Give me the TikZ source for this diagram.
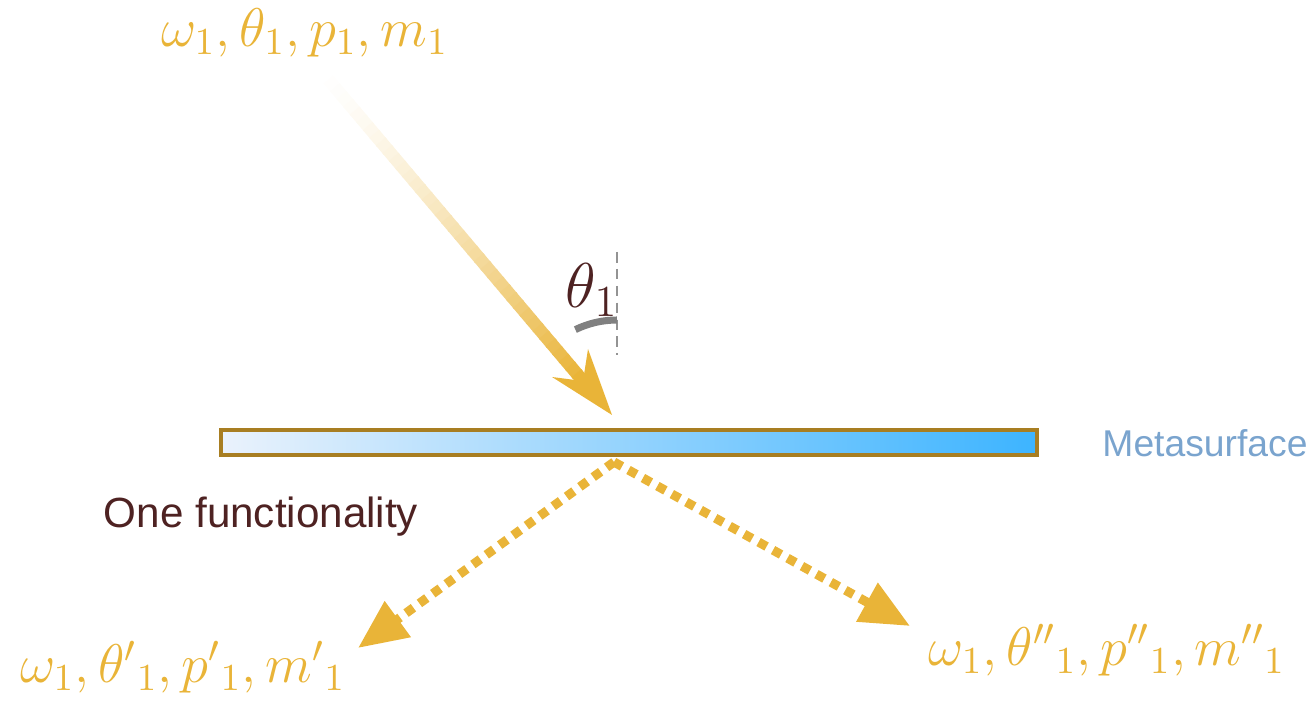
\RequirePackage{fix-cm}
\documentclass[tikz,border=0pt]{standalone}
\usepackage{amsmath}
\usepackage{fontspec}
\setsansfont{Liberation Sans}
\usetikzlibrary{arrows.meta,calc}
\definecolor{gold}{RGB}{233,180,56}
\definecolor{rim}{RGB}{168,126,34}
\definecolor{darkbrown}{RGB}{78,34,34}
\definecolor{metablue}{RGB}{61,180,255}
\definecolor{metapale}{RGB}{234,242,252}
\definecolor{metatext}{RGB}{122,164,206}

\tikzset{
  params/.style={text=gold, font=\fontsize{15.5}{18.5}\selectfont},
  scattered/.style={gold, line width=2.6pt, dash pattern=on 2.6pt off 2.1pt,
    -{Triangle[length=14pt,width=12pt]}},
}

\begin{document}
\begin{tikzpicture}[x=0.01cm, y=-0.01cm]
  \useasboundingbox (0,0) rectangle (1313,701);
  % labels
  \node[params] (inc) at (305,33) {$\omega_1,\theta_1,p_1,m_1$};
  \node[params] (refl) at (183,667) {$\omega_1,\theta'{}_1,p'{}_1,m'{}_1$};
  \node[params] (trans) at (1107,650) {$\omega_1,\theta''{}_1,p''{}_1,m''{}_1$};
  \node[text=darkbrown, font=\sffamily\fontsize{12}{14}\selectfont] (func) at (261,517) {One functionality};
  \node[text=metatext, font=\sffamily\fontsize{10.6}{13}\selectfont] (metalbl) at (1205,443) {Metasurface};
  % metasurface
  \draw[rim, line width=1pt, left color=metapale, middle color=metablue!30!metapale, right color=metablue] (221,430) rectangle (1037,455);
  \coordinate (meta) at (614,462);
  % incident beam, fading in
  \coordinate (src) at (322,72);
  \coordinate (notch) at (583,381);
  \foreach \i in {0,...,39}
    \draw[gold!\fpeval{round(100*(\i/39)^1.4)}!white, line width=3.6pt]
      ($(src)!\i/40!(notch)$) -- ($(src)!\i/40+0.03!(notch)$);
  \coordinate (hit) at (612,415);
  \fill[gold] (hit) -- (552,377) -- (notch) -- (588,349) -- cycle;
  % angle
  \draw[gray!85, line width=0.8pt, dash pattern=on 3pt off 1.8pt] (617,252) -- (617,355);
  \draw[gray, line width=2pt] (617,415) ++(-116:95) arc[start angle=-116, end angle=-90, radius=95];
  \node[text=darkbrown, font=\fontsize{18}{21}\selectfont] (ang) at (592,290) {$\theta_1$};
  % outgoing beams
  \draw[scattered] (meta) -- (358,648);
  \draw[scattered] (meta) -- (910,626);
\end{tikzpicture}
\end{document}
